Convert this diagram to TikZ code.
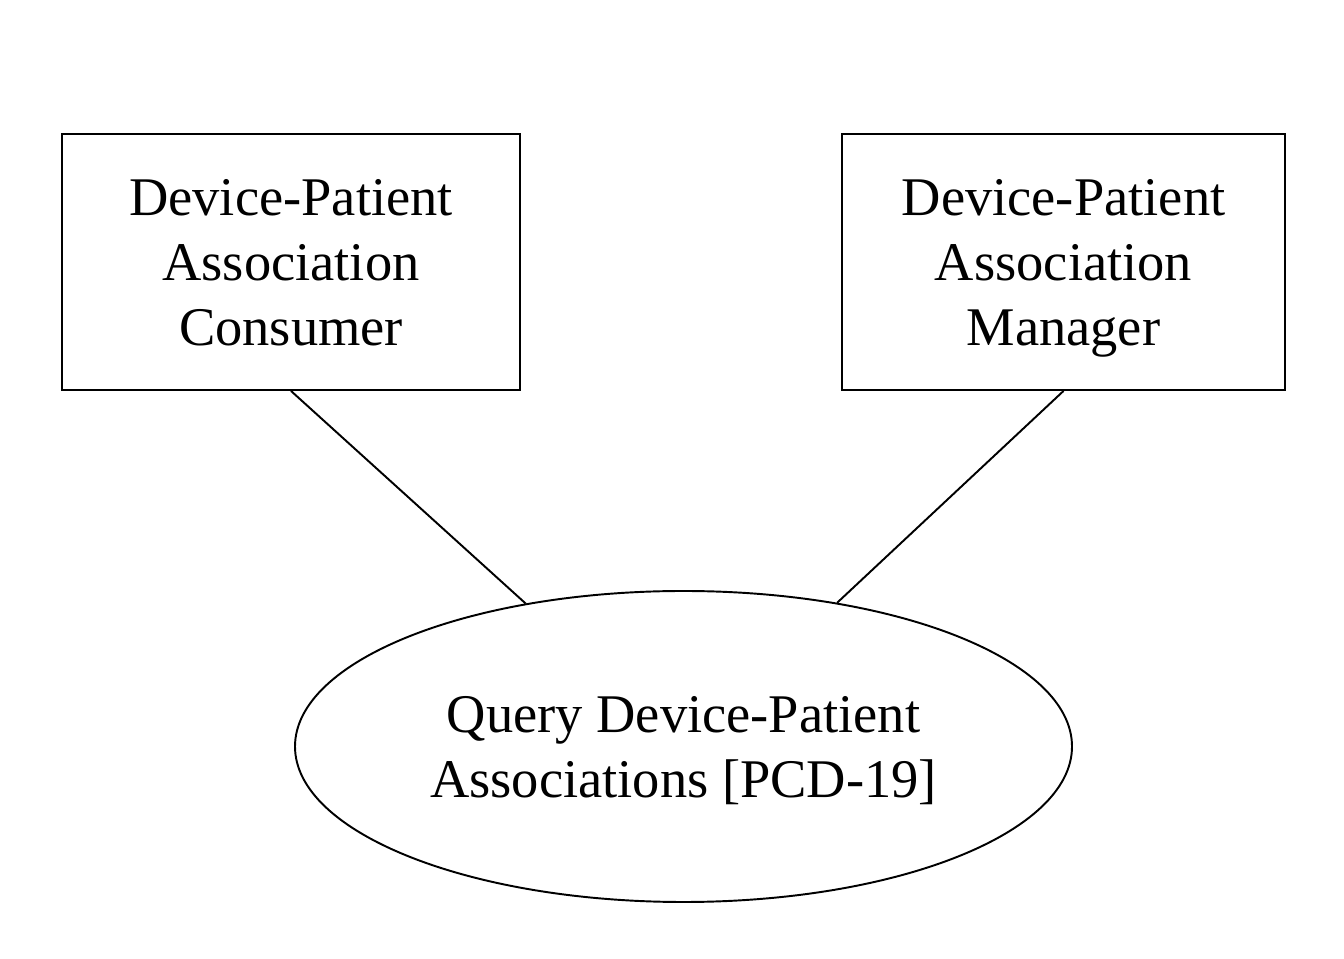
\documentclass[tikz,border=0pt]{standalone}
\usepackage{fontspec}
\setmainfont{Liberation Serif}
\usetikzlibrary{shapes.geometric}

\begin{document}
\begin{tikzpicture}[x=0.02cm, y=0.02cm,
    akteur/.style={draw, line width=1.1pt, minimum width=458*0.02cm, minimum height=256*0.02cm,
      text depth=-0.26cm, align=center, font=\fontsize{31}{37}\selectfont},
    transaktion/.style={draw, ellipse, line width=1.1pt, inner sep=0pt,
      minimum width=777*0.02cm, minimum height=311*0.02cm, text depth=0pt,
      align=center, font=\fontsize{31}{37}\selectfont},
    verbindung/.style={line width=1.1pt}]
  % Rahmen
  \useasboundingbox (0,0) rectangle (1344,959);

  % Akteure
  \node[akteur] (consumer) at (291,697) {Device-Patient\\Association\\Consumer};
  \node[akteur, minimum width=443*0.02cm] (manager) at (1063.5,697) {Device-Patient\\Association\\Manager};

  % Transaktion
  \node[transaktion] (query) at (683.5,212.5) {Query Device-Patient\\Associations [PCD-19]};

  % Verbindungen
  \draw[verbindung] (consumer.south) -- (query);
  \draw[verbindung] (manager.south) -- (query);
\end{tikzpicture}
\end{document}
